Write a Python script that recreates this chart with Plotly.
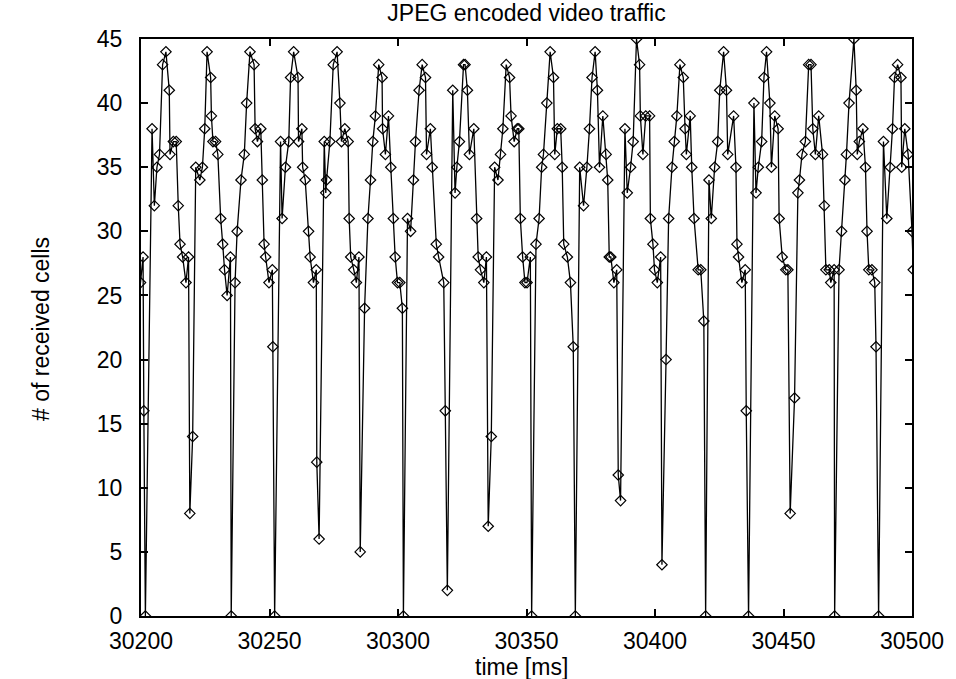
import plotly.graph_objects as go

# time [ms] of each sample
time_ms = [
    30199.8, 30200.8, 30201.1, 30201.7, 30204.3, 30205.2, 30206.2, 30207.2, 30208.4, 30209.7,
    30211.0, 30211.3, 30212.6, 30213.7, 30214.5, 30215.2, 30216.2, 30217.5, 30218.5, 30219.0,
    30220.1, 30221.3, 30222.9, 30223.9, 30224.8, 30225.7, 30227.1, 30227.4, 30228.0, 30229.0,
    30229.9, 30231.0, 30231.8, 30232.5, 30233.5, 30234.8, 30235.1, 30236.6, 30237.4, 30238.9,
    30240.2, 30241.1, 30242.4, 30244.0, 30244.4, 30245.3, 30246.6, 30247.2, 30247.9, 30248.5,
    30249.8, 30251.1, 30251.3, 30252.0, 30254.3, 30254.9, 30256.2, 30257.5, 30258.2, 30259.4,
    30261.1, 30261.3, 30262.6, 30262.9, 30263.9, 30265.2, 30265.8, 30267.1, 30268.2, 30268.4,
    30269.3, 30271.3, 30271.9, 30272.2, 30273.5, 30274.8, 30276.3, 30277.4, 30278.0, 30279.3,
    30280.6, 30281.0, 30281.6, 30282.8, 30283.8, 30284.8, 30285.3, 30287.0, 30288.3, 30289.3,
    30290.2, 30291.2, 30292.5, 30293.8, 30294.0, 30295.1, 30296.3, 30297.2, 30298.2, 30298.9,
    30299.8, 30300.7, 30301.7, 30302.1, 30303.7, 30304.9, 30306.0, 30306.8, 30308.2, 30309.4,
    30310.7, 30311.1, 30312.6, 30313.3, 30314.9, 30315.8, 30317.8, 30318.4, 30319.2, 30321.3,
    30322.2, 30322.9, 30323.9, 30325.5, 30326.1, 30327.0, 30327.8, 30329.5, 30330.6, 30331.2,
    30332.1, 30333.4, 30334.4, 30335.1, 30336.3, 30337.6, 30338.9, 30339.9, 30340.8, 30342.1,
    30343.4, 30344.0, 30345.2, 30346.4, 30347.0, 30347.6, 30348.5, 30349.4, 30350.2, 30351.5,
    30352.0, 30353.7, 30354.9, 30355.9, 30356.6, 30357.9, 30359.2, 30360.5, 30361.0, 30362.0,
    30363.3, 30363.9, 30364.5, 30365.9, 30367.1, 30368.2, 30369.0, 30370.7, 30372.2, 30373.5,
    30374.5, 30375.5, 30376.7, 30377.6, 30378.4, 30379.7, 30381.0, 30381.6, 30382.2, 30382.8,
    30384.0, 30385.1, 30385.7, 30386.6, 30388.3, 30389.2, 30390.5, 30391.5, 30392.8, 30394.0,
    30394.3, 30395.3, 30396.4, 30397.9, 30398.2, 30399.2, 30399.8, 30400.9, 30402.2, 30402.7,
    30404.3, 30405.3, 30406.6, 30407.5, 30408.5, 30409.7, 30411.0, 30411.7, 30412.2, 30413.7,
    30414.3, 30415.2, 30416.8, 30417.8, 30419.0, 30419.7, 30421.0, 30421.9, 30423.2, 30424.4,
    30425.2, 30426.7, 30427.8, 30428.3, 30430.6, 30431.5, 30431.9, 30432.5, 30433.8, 30435.1,
    30435.5, 30436.4, 30438.5, 30439.3, 30440.2, 30441.5, 30442.4, 30443.4, 30444.7, 30445.3,
    30446.6, 30447.9, 30448.3, 30449.5, 30450.9, 30451.7, 30452.6, 30454.3, 30455.6, 30456.2,
    30457.2, 30458.5, 30459.8, 30460.7, 30461.4, 30462.4, 30463.7, 30465.2, 30465.9, 30466.5,
    30467.8, 30468.4, 30469.7, 30469.9, 30471.6, 30472.6, 30473.9, 30474.5, 30475.5, 30477.4,
    30478.3, 30478.7, 30479.5, 30480.9, 30481.9, 30482.5, 30483.2, 30484.4, 30485.5, 30486.0,
    30487.0, 30488.9, 30490.2, 30491.5, 30492.4, 30493.2, 30494.4, 30495.7, 30496.0, 30497.2,
    30498.5, 30500.0, 30500.5,
]

# number of received cells per sample
cells = [
    26, 28, 16, 0, 38, 32, 35, 36, 43, 44,
    41, 36, 37, 37, 32, 29, 28, 26, 28, 8,
    14, 35, 34, 35, 38, 44, 42, 39, 37, 37,
    36, 31, 29, 27, 25, 28, 0, 26, 30, 34,
    36, 40, 44, 43, 38, 37, 38, 34, 29, 28,
    26, 27, 21, 0, 37, 31, 35, 37, 42, 44,
    42, 37, 38, 35, 34, 30, 28, 26, 27, 12,
    6, 37, 33, 34, 37, 43, 44, 40, 37, 38,
    37, 31, 28, 27, 26, 28, 5, 24, 31, 34,
    37, 39, 43, 42, 38, 36, 39, 35, 31, 28,
    26, 26, 24, 0, 31, 30, 34, 37, 41, 43,
    42, 36, 38, 35, 29, 28, 26, 16, 2, 41,
    33, 35, 37, 43, 43, 41, 36, 38, 31, 28,
    27, 26, 28, 7, 14, 35, 34, 36, 38, 43,
    42, 39, 37, 38, 38, 31, 28, 26, 26, 28,
    0, 29, 31, 35, 36, 40, 44, 42, 36, 38,
    38, 35, 29, 28, 26, 21, 0, 35, 32, 35,
    38, 42, 44, 41, 35, 39, 36, 34, 28, 28,
    26, 27, 11, 9, 38, 33, 35, 37, 45, 43,
    39, 36, 39, 39, 31, 29, 27, 26, 28, 4,
    20, 31, 35, 37, 39, 43, 42, 38, 36, 39,
    35, 31, 27, 27, 23, 0, 34, 31, 35, 37,
    41, 44, 41, 36, 39, 35, 29, 28, 26, 27,
    16, 0, 40, 33, 35, 37, 42, 44, 40, 35,
    39, 38, 31, 28, 27, 27, 8, 17, 33, 34,
    36, 37, 43, 43, 38, 36, 39, 36, 32, 27,
    27, 26, 27, 0, 27, 30, 34, 36, 40, 45,
    41, 36, 37, 38, 35, 30, 27, 27, 26, 21,
    0, 37, 31, 35, 38, 42, 43, 42, 35, 38,
    36, 30, 27,
]

x_ticks = [30200, 30250, 30300, 30350, 30400, 30450, 30500]
x_tick_labels = ["30200", "30250", "30300", "30350", "30400", "30450", "30500"]
y_ticks = [0, 5, 10, 15, 20, 25, 30, 35, 40, 45]
y_tick_labels = ["0", "5", "10", "15", "20", "25", "30", "35", "40", "45"]

FONT = "Liberation Sans, Arial, Helvetica, sans-serif"
FS = 23

fig = go.Figure()
fig.add_trace(go.Scatter(
    x=time_ms, y=cells, mode="lines+markers",
    line=dict(color="black", width=1.3),
    marker=dict(symbol="diamond-open", size=8, color="black", line=dict(width=1.2, color="black")),
    cliponaxis=True, showlegend=False,
))

axis_common = dict(
    showline=True, linecolor="black", linewidth=2, mirror="ticks",
    ticks="inside", ticklen=7, tickwidth=1.5, tickcolor="black",
    showgrid=False, zeroline=False,
    tickfont=dict(family=FONT, size=FS, color="black"),
)

fig.update_xaxes(range=[30200, 30500], tickvals=x_ticks, ticktext=x_tick_labels,
                 ticklabelstandoff=3, **axis_common)
fig.update_yaxes(range=[0, 45], tickvals=y_ticks, ticktext=y_tick_labels,
                 ticklabelstandoff=12, **axis_common)

fig.update_layout(
    width=956, height=679,
    margin=dict(l=141, r=36, t=39, b=63),
    paper_bgcolor="white", plot_bgcolor="white",
    title=dict(text="JPEG encoded video traffic", x=0.5, xref="paper", y=0.981, yref="container",
               yanchor="middle", font=dict(family=FONT, size=FS, color="black")),
    annotations=[
        dict(text="# of received cells", textangle=-90, xref="paper", yref="paper",
             x=-0.13, y=0.497, xanchor="center", yanchor="middle", showarrow=False,
             font=dict(family=FONT, size=FS, color="black")),
        dict(text="time [ms]", xref="paper", yref="paper",
             x=0.494, y=-0.089, xanchor="center", yanchor="middle", showarrow=False,
             font=dict(family=FONT, size=FS, color="black")),
    ],
)

fig.write_html("out.html")
